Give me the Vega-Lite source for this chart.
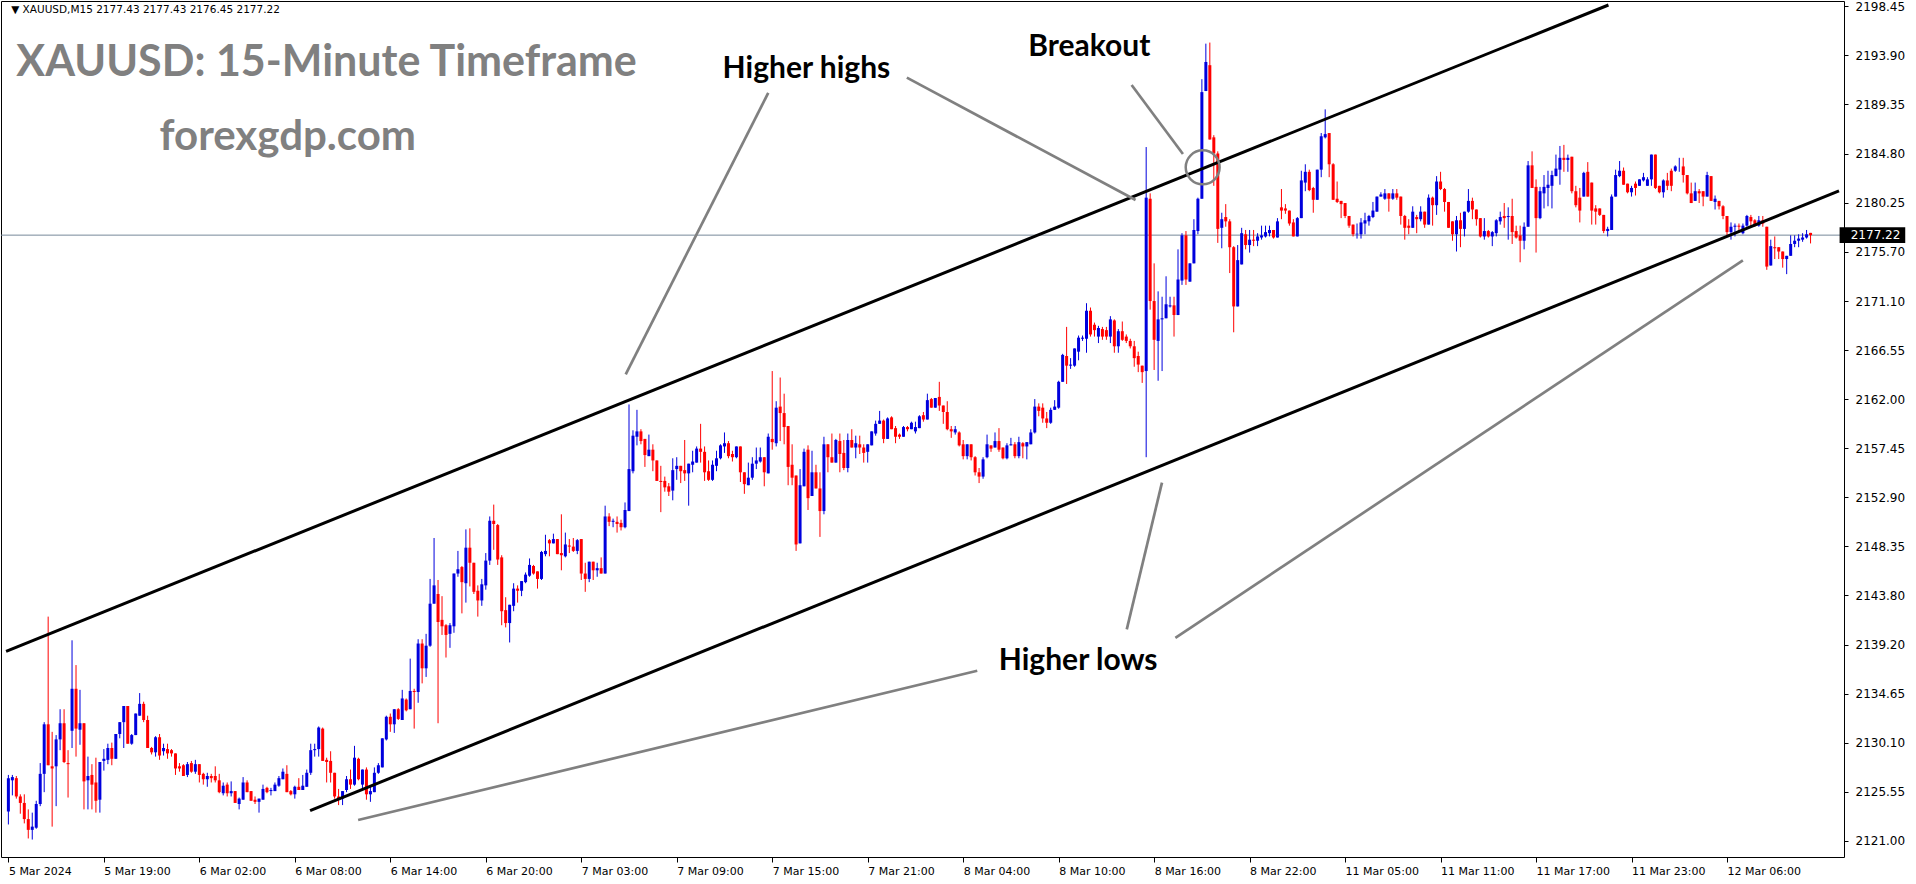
{
"$schema": "https://vega.github.io/schema/vega-lite/v6.json",
"width": 1843,
"height": 856,
"autosize": {"type": "none"},
"padding": {"left": 1, "top": 1, "right": 72, "bottom": 27},
"background": "#ffffff",
"config": {"view": {"stroke": "#000000", "strokeWidth": 1}, "axis": {"grid": false, "domain": false, "tickColor": "#000000", "labelColor": "#000000", "title": null}},
"datasets": {
"candles": [
{"i":0,"o":2123.7,"h":2127.1,"l":2122.5,"c":2126.8},{"i":1,"o":2126.6,"h":2127.1,"l":2125.2,"c":2126.9},{"i":2,"o":2126.8,"h":2127.0,"l":2124.9,"c":2125.1},{"i":3,"o":2125.1,"h":2125.3,"l":2123.5,"c":2124.5},{"i":4,"o":2124.5,"h":2125.3,"l":2122.6,"c":2123.0},{"i":5,"o":2123.0,"h":2123.9,"l":2121.2,"c":2122.0},{"i":6,"o":2122.0,"h":2123.6,"l":2121.1,"c":2122.3},{"i":7,"o":2122.2,"h":2124.7,"l":2122.1,"c":2124.4},{"i":8,"o":2124.4,"h":2128.2,"l":2124.2,"c":2127.2},{"i":9,"o":2127.2,"h":2132.0,"l":2125.5,"c":2131.8},
{"i":10,"o":2131.8,"h":2141.8,"l":2128.0,"c":2128.0},{"i":11,"o":2127.9,"h":2131.1,"l":2122.3,"c":2127.7},{"i":12,"o":2127.9,"h":2130.8,"l":2124.2,"c":2130.4},{"i":13,"o":2130.4,"h":2133.2,"l":2129.4,"c":2131.9},{"i":14,"o":2131.9,"h":2133.2,"l":2128.2,"c":2128.3},{"i":15,"o":2128.2,"h":2129.4,"l":2125.0,"c":2128.1},{"i":16,"o":2131.2,"h":2139.6,"l":2129.6,"c":2135.1},{"i":17,"o":2135.1,"h":2137.3,"l":2128.8,"c":2131.4},{"i":18,"o":2131.3,"h":2135.0,"l":2129.9,"c":2131.9},{"i":19,"o":2131.9,"h":2131.9,"l":2123.9,"c":2126.5},
{"i":20,"o":2126.6,"h":2128.8,"l":2123.9,"c":2127.0},{"i":21,"o":2127.1,"h":2128.1,"l":2123.9,"c":2126.2},{"i":22,"o":2126.4,"h":2128.7,"l":2123.6,"c":2124.7},{"i":23,"o":2124.8,"h":2128.3,"l":2123.6,"c":2128.3},{"i":24,"o":2128.4,"h":2129.5,"l":2127.5,"c":2128.6},{"i":25,"o":2128.5,"h":2130.0,"l":2128.1,"c":2129.6},{"i":26,"o":2129.6,"h":2130.1,"l":2128.0,"c":2128.6},{"i":27,"o":2128.6,"h":2130.9,"l":2128.6,"c":2130.9},{"i":28,"o":2130.9,"h":2132.0,"l":2130.5,"c":2132.0},{"i":29,"o":2132.0,"h":2133.5,"l":2129.6,"c":2133.5},
{"i":30,"o":2133.5,"h":2133.5,"l":2130.0,"c":2130.0},{"i":31,"o":2130.0,"h":2130.9,"l":2129.9,"c":2130.8},{"i":32,"o":2130.8,"h":2132.8,"l":2130.8,"c":2132.8},{"i":33,"o":2132.6,"h":2134.7,"l":2132.6,"c":2133.7},{"i":34,"o":2133.7,"h":2133.9,"l":2132.0,"c":2132.2},{"i":35,"o":2132.2,"h":2132.6,"l":2129.6,"c":2129.6},{"i":36,"o":2129.6,"h":2129.7,"l":2129.0,"c":2129.2},{"i":37,"o":2129.2,"h":2130.7,"l":2128.8,"c":2130.6},{"i":38,"o":2130.6,"h":2130.9,"l":2128.5,"c":2128.9},{"i":39,"o":2129.3,"h":2130.0,"l":2128.9,"c":2129.6},
{"i":40,"o":2129.5,"h":2130.0,"l":2128.6,"c":2129.1},{"i":41,"o":2129.4,"h":2129.5,"l":2128.8,"c":2129.1},{"i":42,"o":2129.1,"h":2129.1,"l":2127.1,"c":2127.7},{"i":43,"o":2127.9,"h":2128.2,"l":2127.4,"c":2127.7},{"i":44,"o":2128.0,"h":2128.1,"l":2127.0,"c":2127.0},{"i":45,"o":2127.1,"h":2128.3,"l":2126.9,"c":2128.1},{"i":46,"o":2128.2,"h":2128.4,"l":2127.3,"c":2127.4},{"i":47,"o":2127.4,"h":2128.5,"l":2127.2,"c":2128.1},{"i":48,"o":2128.1,"h":2128.1,"l":2126.4,"c":2127.1},{"i":49,"o":2127.2,"h":2127.3,"l":2126.2,"c":2126.7},
{"i":50,"o":2126.7,"h":2127.3,"l":2126.0,"c":2127.0},{"i":51,"o":2127.0,"h":2127.2,"l":2126.4,"c":2126.8},{"i":52,"o":2127.0,"h":2127.9,"l":2126.4,"c":2126.6},{"i":53,"o":2126.6,"h":2127.2,"l":2125.4,"c":2125.5},{"i":54,"o":2125.4,"h":2126.4,"l":2125.2,"c":2126.1},{"i":55,"o":2126.2,"h":2126.4,"l":2125.1,"c":2125.4},{"i":56,"o":2125.4,"h":2126.5,"l":2125.1,"c":2125.6},{"i":57,"o":2125.6,"h":2125.6,"l":2124.5,"c":2124.5},{"i":58,"o":2124.4,"h":2125.0,"l":2123.9,"c":2124.9},{"i":59,"o":2124.8,"h":2126.9,"l":2124.8,"c":2126.4},
{"i":60,"o":2126.4,"h":2126.6,"l":2125.5,"c":2125.5},{"i":61,"o":2125.6,"h":2125.6,"l":2124.7,"c":2124.7},{"i":62,"o":2124.8,"h":2125.1,"l":2124.4,"c":2124.6},{"i":63,"o":2124.6,"h":2124.9,"l":2123.6,"c":2124.9},{"i":64,"o":2124.8,"h":2126.2,"l":2124.8,"c":2125.8},{"i":65,"o":2125.9,"h":2126.0,"l":2125.4,"c":2125.5},{"i":66,"o":2125.6,"h":2125.9,"l":2125.2,"c":2125.7},{"i":67,"o":2125.6,"h":2126.4,"l":2125.6,"c":2126.2},{"i":68,"o":2126.1,"h":2127.0,"l":2126.0,"c":2126.8},{"i":69,"o":2126.7,"h":2127.7,"l":2126.7,"c":2127.4},
{"i":70,"o":2127.2,"h":2128.0,"l":2125.5,"c":2125.5},{"i":71,"o":2125.6,"h":2125.7,"l":2125.2,"c":2125.3},{"i":72,"o":2125.3,"h":2126.1,"l":2124.9,"c":2126.0},{"i":73,"o":2126.0,"h":2126.8,"l":2125.7,"c":2125.7},{"i":74,"o":2125.7,"h":2127.1,"l":2125.7,"c":2126.1},{"i":75,"o":2126.0,"h":2127.6,"l":2126.0,"c":2127.3},{"i":76,"o":2127.3,"h":2130.0,"l":2127.1,"c":2129.4},{"i":77,"o":2129.4,"h":2130.0,"l":2128.8,"c":2129.5},{"i":78,"o":2129.5,"h":2131.6,"l":2128.8,"c":2131.5},{"i":79,"o":2131.4,"h":2131.5,"l":2128.4,"c":2128.4},
{"i":80,"o":2128.5,"h":2128.7,"l":2126.4,"c":2128.3},{"i":81,"o":2128.4,"h":2129.3,"l":2126.4,"c":2127.3},{"i":82,"o":2127.3,"h":2127.3,"l":2124.9,"c":2125.1},{"i":83,"o":2125.1,"h":2125.8,"l":2124.3,"c":2124.8},{"i":84,"o":2124.9,"h":2125.6,"l":2124.3,"c":2125.6},{"i":85,"o":2125.7,"h":2127.0,"l":2125.5,"c":2126.7},{"i":86,"o":2126.7,"h":2127.6,"l":2125.8,"c":2126.2},{"i":87,"o":2126.2,"h":2129.8,"l":2126.1,"c":2128.7},{"i":88,"o":2128.6,"h":2128.7,"l":2126.6,"c":2126.7},{"i":89,"o":2126.2,"h":2127.6,"l":2125.7,"c":2127.6},
{"i":90,"o":2127.6,"h":2127.8,"l":2124.8,"c":2125.3},{"i":91,"o":2125.3,"h":2126.0,"l":2124.6,"c":2125.6},{"i":92,"o":2125.5,"h":2127.8,"l":2125.5,"c":2127.3},{"i":93,"o":2127.3,"h":2128.2,"l":2127.2,"c":2128.0},{"i":94,"o":2127.8,"h":2130.5,"l":2127.8,"c":2130.5},{"i":95,"o":2130.4,"h":2132.6,"l":2130.3,"c":2132.5},{"i":96,"o":2132.5,"h":2132.8,"l":2131.1,"c":2131.8},{"i":97,"o":2131.8,"h":2133.2,"l":2131.0,"c":2133.2},{"i":98,"o":2133.2,"h":2133.3,"l":2132.2,"c":2132.3},{"i":99,"o":2132.2,"h":2135.0,"l":2132.2,"c":2134.2},
{"i":100,"o":2134.1,"h":2134.2,"l":2133.0,"c":2133.1},{"i":101,"o":2133.2,"h":2137.9,"l":2133.2,"c":2134.9},{"i":102,"o":2134.9,"h":2135.1,"l":2131.4,"c":2134.8},{"i":103,"o":2134.8,"h":2139.7,"l":2133.8,"c":2139.3},{"i":104,"o":2139.3,"h":2139.7,"l":2135.6,"c":2137.0},{"i":105,"o":2137.0,"h":2140.2,"l":2136.2,"c":2139.1},{"i":106,"o":2139.1,"h":2145.3,"l":2139.0,"c":2143.0},{"i":107,"o":2143.0,"h":2149.1,"l":2143.0,"c":2144.7},{"i":108,"o":2143.9,"h":2145.2,"l":2131.9,"c":2141.3},{"i":109,"o":2141.5,"h":2143.7,"l":2140.1,"c":2140.9},
{"i":110,"o":2141.0,"h":2141.1,"l":2138.0,"c":2140.1},{"i":111,"o":2140.2,"h":2141.2,"l":2138.9,"c":2141.0},{"i":112,"o":2140.9,"h":2145.8,"l":2140.3,"c":2145.8},{"i":113,"o":2145.8,"h":2147.9,"l":2145.5,"c":2146.2},{"i":114,"o":2146.4,"h":2146.5,"l":2142.1,"c":2145.0},{"i":115,"o":2144.9,"h":2149.9,"l":2143.1,"c":2148.2},{"i":116,"o":2148.2,"h":2150.0,"l":2144.6,"c":2146.8},{"i":117,"o":2146.8,"h":2146.8,"l":2143.9,"c":2144.1},{"i":118,"o":2144.2,"h":2144.7,"l":2141.8,"c":2143.3},{"i":119,"o":2143.3,"h":2145.3,"l":2142.8,"c":2144.8},
{"i":120,"o":2144.7,"h":2147.7,"l":2144.3,"c":2147.0},{"i":121,"o":2147.0,"h":2151.1,"l":2146.6,"c":2150.7},{"i":122,"o":2150.7,"h":2152.2,"l":2148.0,"c":2150.4},{"i":123,"o":2150.3,"h":2150.4,"l":2146.6,"c":2147.1},{"i":124,"o":2147.3,"h":2147.5,"l":2141.0,"c":2142.3},{"i":125,"o":2142.4,"h":2143.6,"l":2140.8,"c":2141.2},{"i":126,"o":2141.2,"h":2142.9,"l":2139.4,"c":2142.9},{"i":127,"o":2142.8,"h":2144.9,"l":2142.3,"c":2144.4},{"i":128,"o":2144.4,"h":2144.7,"l":2143.1,"c":2144.2},{"i":129,"o":2144.2,"h":2145.1,"l":2143.7,"c":2145.1},
{"i":130,"o":2145.0,"h":2145.9,"l":2144.9,"c":2145.7},{"i":131,"o":2145.6,"h":2147.2,"l":2145.5,"c":2146.6},{"i":132,"o":2146.5,"h":2146.6,"l":2145.7,"c":2145.8},{"i":133,"o":2146.0,"h":2146.0,"l":2144.4,"c":2145.3},{"i":134,"o":2145.3,"h":2147.9,"l":2145.2,"c":2147.8},{"i":135,"o":2147.6,"h":2149.4,"l":2147.4,"c":2147.9},{"i":136,"o":2148.9,"h":2149.0,"l":2147.4,"c":2148.6},{"i":137,"o":2148.6,"h":2149.5,"l":2148.6,"c":2149.0},{"i":138,"o":2149.0,"h":2149.0,"l":2147.6,"c":2147.6},{"i":139,"o":2147.7,"h":2151.3,"l":2146.1,"c":2147.5},
{"i":140,"o":2147.4,"h":2149.6,"l":2147.3,"c":2148.5},{"i":141,"o":2148.4,"h":2149.0,"l":2147.7,"c":2148.3},{"i":142,"o":2148.3,"h":2149.1,"l":2147.8,"c":2147.9},{"i":143,"o":2147.9,"h":2149.0,"l":2147.6,"c":2148.9},{"i":144,"o":2149.0,"h":2149.0,"l":2145.2,"c":2145.8},{"i":145,"o":2145.8,"h":2146.8,"l":2144.1,"c":2145.3},{"i":146,"o":2145.3,"h":2146.9,"l":2145.0,"c":2146.9},{"i":147,"o":2146.9,"h":2146.9,"l":2145.2,"c":2146.1},{"i":148,"o":2146.1,"h":2146.8,"l":2145.5,"c":2146.3},{"i":149,"o":2146.3,"h":2147.3,"l":2145.8,"c":2145.8},
{"i":150,"o":2145.8,"h":2152.1,"l":2145.8,"c":2151.1},{"i":151,"o":2151.1,"h":2151.4,"l":2150.2,"c":2150.6},{"i":152,"o":2150.6,"h":2150.9,"l":2150.1,"c":2150.7},{"i":153,"o":2150.6,"h":2151.1,"l":2149.6,"c":2150.4},{"i":154,"o":2150.5,"h":2150.8,"l":2149.8,"c":2150.1},{"i":155,"o":2150.1,"h":2152.4,"l":2150.0,"c":2151.7},{"i":156,"o":2151.6,"h":2161.5,"l":2151.6,"c":2155.5},{"i":157,"o":2155.3,"h":2159.1,"l":2155.1,"c":2158.6},{"i":158,"o":2158.5,"h":2161.0,"l":2157.7,"c":2159.0},{"i":159,"o":2159.0,"h":2159.2,"l":2157.8,"c":2158.1},
{"i":160,"o":2158.3,"h":2158.3,"l":2155.7,"c":2156.8},{"i":161,"o":2156.7,"h":2158.7,"l":2156.7,"c":2157.3},{"i":162,"o":2157.3,"h":2157.8,"l":2155.3,"c":2156.3},{"i":163,"o":2156.3,"h":2156.3,"l":2154.4,"c":2154.4},{"i":164,"o":2154.4,"h":2155.8,"l":2151.5,"c":2154.3},{"i":165,"o":2154.4,"h":2154.8,"l":2153.4,"c":2153.8},{"i":166,"o":2153.9,"h":2154.2,"l":2153.0,"c":2153.4},{"i":167,"o":2153.5,"h":2156.5,"l":2152.6,"c":2155.4},{"i":168,"o":2155.5,"h":2156.6,"l":2154.5,"c":2155.8},{"i":169,"o":2155.8,"h":2155.8,"l":2154.2,"c":2155.3},
{"i":170,"o":2155.4,"h":2158.2,"l":2154.4,"c":2155.1},{"i":171,"o":2155.1,"h":2156.0,"l":2152.1,"c":2156.0},{"i":172,"o":2155.9,"h":2157.2,"l":2155.2,"c":2156.2},{"i":173,"o":2156.1,"h":2157.6,"l":2156.1,"c":2157.4},{"i":174,"o":2157.4,"h":2159.7,"l":2156.1,"c":2157.1},{"i":175,"o":2157.1,"h":2157.6,"l":2154.4,"c":2155.2},{"i":176,"o":2155.3,"h":2156.3,"l":2154.4,"c":2154.5},{"i":177,"o":2154.5,"h":2156.3,"l":2154.4,"c":2155.9},{"i":178,"o":2155.8,"h":2157.2,"l":2155.3,"c":2156.5},{"i":179,"o":2156.5,"h":2157.8,"l":2156.4,"c":2157.7},
{"i":180,"o":2157.6,"h":2158.9,"l":2157.0,"c":2157.9},{"i":181,"o":2157.9,"h":2158.1,"l":2156.5,"c":2156.7},{"i":182,"o":2156.9,"h":2157.2,"l":2156.2,"c":2156.6},{"i":183,"o":2156.6,"h":2157.6,"l":2156.5,"c":2157.6},{"i":184,"o":2157.6,"h":2157.6,"l":2154.3,"c":2155.2},{"i":185,"o":2155.2,"h":2155.2,"l":2153.2,"c":2154.1},{"i":186,"o":2154.0,"h":2156.1,"l":2154.0,"c":2154.7},{"i":187,"o":2154.7,"h":2156.6,"l":2154.5,"c":2156.0},{"i":188,"o":2156.0,"h":2157.5,"l":2155.5,"c":2156.3},{"i":189,"o":2156.2,"h":2157.5,"l":2156.1,"c":2156.6},
{"i":190,"o":2156.6,"h":2156.6,"l":2153.9,"c":2155.2},{"i":191,"o":2155.1,"h":2158.8,"l":2155.1,"c":2158.5},{"i":192,"o":2158.3,"h":2164.6,"l":2157.3,"c":2158.0},{"i":193,"o":2157.9,"h":2161.8,"l":2157.6,"c":2161.2},{"i":194,"o":2161.3,"h":2164.0,"l":2158.1,"c":2160.7},{"i":195,"o":2160.7,"h":2162.5,"l":2157.8,"c":2159.4},{"i":196,"o":2159.5,"h":2159.5,"l":2154.0,"c":2155.7},{"i":197,"o":2155.9,"h":2157.8,"l":2154.0,"c":2154.7},{"i":198,"o":2154.9,"h":2154.9,"l":2147.9,"c":2148.5},{"i":199,"o":2148.6,"h":2155.5,"l":2148.6,"c":2154.0},
{"i":200,"o":2153.9,"h":2157.4,"l":2153.9,"c":2157.1},{"i":201,"o":2157.3,"h":2157.7,"l":2151.7,"c":2152.8},{"i":202,"o":2153.0,"h":2157.2,"l":2153.0,"c":2155.2},{"i":203,"o":2155.2,"h":2155.9,"l":2153.7,"c":2153.7},{"i":204,"o":2153.7,"h":2155.2,"l":2149.2,"c":2151.6},{"i":205,"o":2151.6,"h":2158.5,"l":2151.3,"c":2157.8},{"i":206,"o":2157.8,"h":2157.8,"l":2155.2,"c":2156.6},{"i":207,"o":2156.6,"h":2158.8,"l":2156.1,"c":2156.1},{"i":208,"o":2156.1,"h":2158.3,"l":2156.1,"c":2158.2},{"i":209,"o":2158.1,"h":2158.8,"l":2155.2,"c":2156.9},
{"i":210,"o":2157.0,"h":2158.2,"l":2155.4,"c":2155.6},{"i":211,"o":2155.6,"h":2158.8,"l":2155.2,"c":2158.2},{"i":212,"o":2158.2,"h":2159.2,"l":2157.5,"c":2157.5},{"i":213,"o":2157.5,"h":2158.6,"l":2156.5,"c":2157.9},{"i":214,"o":2157.8,"h":2158.6,"l":2156.9,"c":2157.5},{"i":215,"o":2157.5,"h":2157.8,"l":2156.1,"c":2157.0},{"i":216,"o":2157.1,"h":2157.8,"l":2156.1,"c":2157.8},{"i":217,"o":2157.7,"h":2159.0,"l":2157.7,"c":2159.0},{"i":218,"o":2158.8,"h":2160.0,"l":2158.6,"c":2159.7},{"i":219,"o":2159.7,"h":2160.9,"l":2159.7,"c":2160.0},
{"i":220,"o":2160.0,"h":2160.1,"l":2157.9,"c":2158.3},{"i":221,"o":2158.3,"h":2160.3,"l":2158.3,"c":2160.2},{"i":222,"o":2160.3,"h":2160.4,"l":2159.2,"c":2159.2},{"i":223,"o":2159.3,"h":2159.5,"l":2157.9,"c":2158.5},{"i":224,"o":2158.7,"h":2158.8,"l":2158.3,"c":2158.5},{"i":225,"o":2158.5,"h":2159.5,"l":2158.5,"c":2159.4},{"i":226,"o":2159.4,"h":2159.5,"l":2159.0,"c":2159.2},{"i":227,"o":2159.2,"h":2159.9,"l":2159.2,"c":2159.8},{"i":228,"o":2159.0,"h":2159.9,"l":2158.8,"c":2159.4},{"i":229,"o":2159.3,"h":2160.5,"l":2159.3,"c":2160.4},
{"i":230,"o":2160.5,"h":2160.8,"l":2159.9,"c":2160.1},{"i":231,"o":2160.1,"h":2162.5,"l":2160.1,"c":2161.9},{"i":232,"o":2162.0,"h":2162.1,"l":2161.2,"c":2161.2},{"i":233,"o":2161.2,"h":2162.1,"l":2161.2,"c":2162.1},{"i":234,"o":2162.2,"h":2163.6,"l":2160.9,"c":2161.4},{"i":235,"o":2161.4,"h":2161.4,"l":2159.7,"c":2160.8},{"i":236,"o":2160.8,"h":2161.8,"l":2159.1,"c":2159.2},{"i":237,"o":2159.2,"h":2159.5,"l":2158.4,"c":2159.0},{"i":238,"o":2158.9,"h":2159.5,"l":2158.7,"c":2159.2},{"i":239,"o":2158.9,"h":2159.0,"l":2157.6,"c":2157.7},
{"i":240,"o":2157.8,"h":2158.2,"l":2156.4,"c":2156.7},{"i":241,"o":2156.7,"h":2157.8,"l":2156.4,"c":2157.8},{"i":242,"o":2157.8,"h":2157.8,"l":2156.3,"c":2156.6},{"i":243,"o":2156.6,"h":2156.7,"l":2154.9,"c":2155.2},{"i":244,"o":2155.2,"h":2155.6,"l":2154.2,"c":2154.8},{"i":245,"o":2154.8,"h":2156.6,"l":2154.6,"c":2156.4},{"i":246,"o":2156.6,"h":2158.7,"l":2156.5,"c":2157.8},{"i":247,"o":2157.7,"h":2157.7,"l":2157.1,"c":2157.4},{"i":248,"o":2157.5,"h":2158.9,"l":2157.5,"c":2158.1},{"i":249,"o":2158.1,"h":2159.3,"l":2157.1,"c":2157.3},
{"i":250,"o":2157.5,"h":2157.5,"l":2156.4,"c":2156.5},{"i":251,"o":2156.5,"h":2157.9,"l":2156.4,"c":2157.7},{"i":252,"o":2157.7,"h":2158.4,"l":2157.7,"c":2157.8},{"i":253,"o":2157.8,"h":2158.0,"l":2156.5,"c":2156.7},{"i":254,"o":2156.7,"h":2158.5,"l":2156.5,"c":2158.0},{"i":255,"o":2157.9,"h":2158.0,"l":2156.5,"c":2157.6},{"i":256,"o":2157.6,"h":2158.0,"l":2156.4,"c":2158.0},{"i":257,"o":2157.8,"h":2159.2,"l":2157.8,"c":2158.9},{"i":258,"o":2158.9,"h":2162.0,"l":2158.8,"c":2161.3},{"i":259,"o":2161.3,"h":2161.6,"l":2160.4,"c":2160.9},
{"i":260,"o":2161.2,"h":2161.6,"l":2159.8,"c":2160.2},{"i":261,"o":2160.2,"h":2160.8,"l":2159.3,"c":2159.8},{"i":262,"o":2159.8,"h":2161.2,"l":2159.7,"c":2161.0},{"i":263,"o":2161.0,"h":2161.9,"l":2161.0,"c":2161.3},{"i":264,"o":2161.2,"h":2163.7,"l":2161.1,"c":2163.6},{"i":265,"o":2163.6,"h":2166.2,"l":2163.6,"c":2166.1},{"i":266,"o":2166.0,"h":2168.7,"l":2163.4,"c":2165.1},{"i":267,"o":2165.1,"h":2165.8,"l":2164.8,"c":2165.2},{"i":268,"o":2165.1,"h":2166.7,"l":2165.0,"c":2166.7},{"i":269,"o":2166.4,"h":2167.9,"l":2165.6,"c":2167.7},
{"i":270,"o":2167.6,"h":2167.9,"l":2167.4,"c":2167.7},{"i":271,"o":2167.6,"h":2170.9,"l":2166.3,"c":2170.2},{"i":272,"o":2170.2,"h":2170.5,"l":2167.8,"c":2168.0},{"i":273,"o":2168.9,"h":2169.1,"l":2167.8,"c":2168.4},{"i":274,"o":2167.8,"h":2168.8,"l":2167.2,"c":2168.6},{"i":275,"o":2168.5,"h":2168.7,"l":2167.5,"c":2167.8},{"i":276,"o":2168.4,"h":2168.7,"l":2167.5,"c":2167.8},{"i":277,"o":2167.8,"h":2169.7,"l":2167.2,"c":2169.4},{"i":278,"o":2169.3,"h":2169.4,"l":2166.3,"c":2166.9},{"i":279,"o":2166.9,"h":2168.5,"l":2166.3,"c":2168.3},
{"i":280,"o":2168.3,"h":2169.2,"l":2167.4,"c":2167.5},{"i":281,"o":2167.8,"h":2168.0,"l":2167.2,"c":2167.4},{"i":282,"o":2167.4,"h":2167.6,"l":2166.7,"c":2166.9},{"i":283,"o":2166.9,"h":2167.4,"l":2165.0,"c":2165.8},{"i":284,"o":2166.0,"h":2166.4,"l":2164.5,"c":2165.2},{"i":285,"o":2165.1,"h":2165.1,"l":2163.5,"c":2164.5},{"i":286,"o":2164.6,"h":2185.4,"l":2156.6,"c":2180.7},{"i":287,"o":2180.6,"h":2181.1,"l":2170.3,"c":2171.1},{"i":288,"o":2171.1,"h":2174.6,"l":2164.7,"c":2167.5},{"i":289,"o":2167.4,"h":2172.0,"l":2163.7,"c":2169.4},
{"i":290,"o":2169.4,"h":2171.5,"l":2164.6,"c":2169.5},{"i":291,"o":2169.5,"h":2173.4,"l":2169.5,"c":2170.8},{"i":292,"o":2170.6,"h":2171.5,"l":2170.5,"c":2170.7},{"i":293,"o":2170.7,"h":2171.5,"l":2167.8,"c":2169.8},{"i":294,"o":2169.8,"h":2175.9,"l":2169.8,"c":2173.1},{"i":295,"o":2173.0,"h":2177.4,"l":2172.6,"c":2177.2},{"i":296,"o":2177.2,"h":2177.6,"l":2172.6,"c":2173.1},{"i":297,"o":2172.9,"h":2174.6,"l":2172.9,"c":2174.6},{"i":298,"o":2174.6,"h":2178.7,"l":2174.6,"c":2177.7},{"i":299,"o":2177.6,"h":2180.7,"l":2177.3,"c":2180.6},
{"i":300,"o":2180.6,"h":2191.7,"l":2180.6,"c":2190.5},{"i":301,"o":2190.6,"h":2195.0,"l":2190.6,"c":2193.3},{"i":302,"o":2193.0,"h":2195.1,"l":2186.1,"c":2186.1},{"i":303,"o":2186.3,"h":2186.5,"l":2181.8,"c":2184.8},{"i":304,"o":2184.8,"h":2185.0,"l":2176.5,"c":2177.8},{"i":305,"o":2177.9,"h":2179.3,"l":2176.0,"c":2178.7},{"i":306,"o":2178.9,"h":2180.1,"l":2178.0,"c":2178.5},{"i":307,"o":2178.5,"h":2178.7,"l":2173.7,"c":2176.1},{"i":308,"o":2176.1,"h":2176.2,"l":2168.2,"c":2170.6},{"i":309,"o":2170.6,"h":2176.3,"l":2170.6,"c":2174.9},
{"i":310,"o":2174.5,"h":2177.9,"l":2174.5,"c":2177.4},{"i":311,"o":2177.3,"h":2177.7,"l":2175.9,"c":2176.3},{"i":312,"o":2176.3,"h":2177.7,"l":2175.6,"c":2176.8},{"i":313,"o":2176.8,"h":2177.7,"l":2176.2,"c":2176.7},{"i":314,"o":2176.7,"h":2177.4,"l":2176.2,"c":2177.1},{"i":315,"o":2177.0,"h":2178.1,"l":2176.8,"c":2177.2},{"i":316,"o":2177.1,"h":2178.1,"l":2177.0,"c":2177.5},{"i":317,"o":2177.4,"h":2178.1,"l":2177.1,"c":2177.7},{"i":318,"o":2177.7,"h":2177.7,"l":2176.9,"c":2177.0},{"i":319,"o":2177.0,"h":2178.8,"l":2177.0,"c":2178.5},
{"i":320,"o":2179.8,"h":2181.5,"l":2178.7,"c":2179.5},{"i":321,"o":2179.7,"h":2180.1,"l":2179.2,"c":2179.5},{"i":322,"o":2179.5,"h":2179.5,"l":2178.1,"c":2178.3},{"i":323,"o":2178.4,"h":2178.7,"l":2177.1,"c":2177.1},{"i":324,"o":2177.1,"h":2178.9,"l":2177.1,"c":2178.8},{"i":325,"o":2178.8,"h":2183.2,"l":2178.8,"c":2182.3},{"i":326,"o":2182.1,"h":2183.8,"l":2181.3,"c":2183.1},{"i":327,"o":2183.1,"h":2183.3,"l":2181.3,"c":2181.4},{"i":328,"o":2181.6,"h":2181.7,"l":2179.3,"c":2180.5},{"i":329,"o":2180.5,"h":2183.3,"l":2180.5,"c":2183.3},
{"i":330,"o":2183.3,"h":2186.7,"l":2182.6,"c":2186.4},{"i":331,"o":2186.3,"h":2188.9,"l":2186.2,"c":2186.6},{"i":332,"o":2186.7,"h":2186.7,"l":2182.6,"c":2183.8},{"i":333,"o":2183.8,"h":2183.9,"l":2180.5,"c":2180.5},{"i":334,"o":2180.6,"h":2182.2,"l":2180.2,"c":2180.3},{"i":335,"o":2180.4,"h":2180.4,"l":2178.8,"c":2180.1},{"i":336,"o":2180.2,"h":2180.2,"l":2178.8,"c":2179.0},{"i":337,"o":2179.0,"h":2179.0,"l":2177.9,"c":2178.1},{"i":338,"o":2178.2,"h":2178.2,"l":2177.1,"c":2177.3},{"i":339,"o":2177.3,"h":2178.3,"l":2176.9,"c":2177.35},
{"i":340,"o":2177.3,"h":2178.8,"l":2176.9,"c":2178.4},{"i":341,"o":2178.3,"h":2179.3,"l":2177.3,"c":2178.6},{"i":342,"o":2178.5,"h":2179.1,"l":2178.1,"c":2179.0},{"i":343,"o":2178.9,"h":2180.3,"l":2178.8,"c":2179.5},{"i":344,"o":2179.4,"h":2180.8,"l":2179.4,"c":2180.8},{"i":345,"o":2180.8,"h":2181.2,"l":2180.8,"c":2181.0},{"i":346,"o":2180.6,"h":2181.5,"l":2180.5,"c":2181.1},{"i":347,"o":2181.1,"h":2181.1,"l":2179.4,"c":2180.6},{"i":348,"o":2180.6,"h":2181.5,"l":2180.5,"c":2181.1},{"i":349,"o":2181.1,"h":2181.5,"l":2180.5,"c":2180.7},
{"i":350,"o":2180.8,"h":2180.8,"l":2178.2,"c":2179.0},{"i":351,"o":2179.0,"h":2179.1,"l":2176.8,"c":2177.9},{"i":352,"o":2178.1,"h":2178.7,"l":2177.3,"c":2177.9},{"i":353,"o":2177.9,"h":2179.9,"l":2177.9,"c":2179.4},{"i":354,"o":2178.9,"h":2179.1,"l":2177.4,"c":2178.7},{"i":355,"o":2178.7,"h":2179.9,"l":2178.5,"c":2179.4},{"i":356,"o":2179.4,"h":2179.4,"l":2177.9,"c":2178.2},{"i":357,"o":2178.2,"h":2181.0,"l":2178.2,"c":2180.7},{"i":358,"o":2180.7,"h":2180.8,"l":2178.1,"c":2180.0},{"i":359,"o":2180.0,"h":2182.7,"l":2179.1,"c":2182.2},
{"i":360,"o":2182.2,"h":2183.1,"l":2181.4,"c":2181.5},{"i":361,"o":2181.5,"h":2181.6,"l":2179.4,"c":2180.3},{"i":362,"o":2180.3,"h":2180.3,"l":2177.9,"c":2177.9},{"i":363,"o":2178.5,"h":2178.5,"l":2176.7,"c":2177.3},{"i":364,"o":2177.3,"h":2179.0,"l":2175.7,"c":2178.6},{"i":365,"o":2178.6,"h":2179.3,"l":2176.1,"c":2177.8},{"i":366,"o":2177.8,"h":2179.4,"l":2177.1,"c":2179.4},{"i":367,"o":2179.4,"h":2181.5,"l":2179.3,"c":2180.4},{"i":368,"o":2180.4,"h":2180.7,"l":2178.7,"c":2179.6},{"i":369,"o":2179.6,"h":2179.6,"l":2178.1,"c":2178.7},
{"i":370,"o":2178.8,"h":2178.8,"l":2177.0,"c":2177.1},{"i":371,"o":2177.1,"h":2178.8,"l":2176.8,"c":2177.6},{"i":372,"o":2177.6,"h":2177.7,"l":2177.0,"c":2177.1},{"i":373,"o":2177.1,"h":2177.6,"l":2176.2,"c":2177.5},{"i":374,"o":2177.4,"h":2178.7,"l":2177.1,"c":2178.6},{"i":375,"o":2178.5,"h":2179.4,"l":2178.2,"c":2178.9},{"i":376,"o":2179.0,"h":2180.2,"l":2177.9,"c":2178.8},{"i":377,"o":2178.9,"h":2179.8,"l":2176.8,"c":2179.0},{"i":378,"o":2179.0,"h":2180.6,"l":2176.4,"c":2177.5},{"i":379,"o":2177.6,"h":2178.1,"l":2176.9,"c":2177.0},
{"i":380,"o":2177.2,"h":2178.1,"l":2174.7,"c":2176.7},{"i":381,"o":2176.7,"h":2178.4,"l":2175.9,"c":2178.0},{"i":382,"o":2178.0,"h":2184.1,"l":2178.0,"c":2183.7},{"i":383,"o":2183.7,"h":2185.0,"l":2181.6,"c":2181.6},{"i":384,"o":2181.7,"h":2182.4,"l":2175.6,"c":2178.8},{"i":385,"o":2178.8,"h":2181.7,"l":2178.7,"c":2181.3},{"i":386,"o":2181.1,"h":2182.8,"l":2179.7,"c":2181.7},{"i":387,"o":2181.6,"h":2183.2,"l":2179.9,"c":2181.9},{"i":388,"o":2181.8,"h":2183.2,"l":2179.7,"c":2182.8},{"i":389,"o":2182.7,"h":2184.7,"l":2182.7,"c":2183.4},
{"i":390,"o":2183.3,"h":2185.5,"l":2181.9,"c":2184.4},{"i":391,"o":2184.4,"h":2185.6,"l":2183.1,"c":2184.2},{"i":392,"o":2184.2,"h":2184.7,"l":2183.1,"c":2184.4},{"i":393,"o":2184.5,"h":2184.5,"l":2181.1,"c":2181.3},{"i":394,"o":2181.3,"h":2181.8,"l":2179.8,"c":2180.0},{"i":395,"o":2180.7,"h":2181.6,"l":2178.4,"c":2179.5},{"i":396,"o":2180.8,"h":2183.1,"l":2180.8,"c":2183.0},{"i":397,"o":2183.1,"h":2184.0,"l":2180.8,"c":2180.8},{"i":398,"o":2182.1,"h":2182.1,"l":2178.2,"c":2179.5},{"i":399,"o":2179.7,"h":2180.0,"l":2178.2,"c":2179.4},
{"i":400,"o":2179.7,"h":2179.7,"l":2179.0,"c":2179.1},{"i":401,"o":2179.1,"h":2179.1,"l":2177.4,"c":2177.6},{"i":402,"o":2177.6,"h":2178.0,"l":2177.1,"c":2177.8},{"i":403,"o":2177.7,"h":2181.0,"l":2177.7,"c":2180.8},{"i":404,"o":2180.8,"h":2183.3,"l":2180.8,"c":2182.8},{"i":405,"o":2182.7,"h":2184.1,"l":2182.6,"c":2183.2},{"i":406,"o":2183.2,"h":2183.5,"l":2181.9,"c":2181.9},{"i":407,"o":2182.0,"h":2182.0,"l":2181.1,"c":2181.2},{"i":408,"o":2181.2,"h":2181.8,"l":2180.8,"c":2181.6},{"i":409,"o":2182.0,"h":2182.2,"l":2180.9,"c":2181.6},
{"i":410,"o":2181.8,"h":2182.4,"l":2181.8,"c":2182.4},{"i":411,"o":2182.3,"h":2183.0,"l":2182.2,"c":2182.6},{"i":412,"o":2181.8,"h":2182.6,"l":2181.8,"c":2182.4},{"i":413,"o":2182.4,"h":2184.7,"l":2181.8,"c":2184.7},{"i":414,"o":2184.7,"h":2184.7,"l":2181.5,"c":2181.6},{"i":415,"o":2181.8,"h":2181.8,"l":2181.1,"c":2181.2},{"i":416,"o":2181.2,"h":2182.4,"l":2180.7,"c":2182.3},{"i":417,"o":2182.3,"h":2183.0,"l":2181.4,"c":2181.8},{"i":418,"o":2183.2,"h":2183.4,"l":2181.3,"c":2181.8},{"i":419,"o":2183.2,"h":2183.7,"l":2183.1,"c":2183.6},
{"i":420,"o":2183.6,"h":2184.4,"l":2183.1,"c":2183.6},{"i":421,"o":2183.6,"h":2184.4,"l":2182.1,"c":2182.8},{"i":422,"o":2182.8,"h":2182.8,"l":2181.0,"c":2181.1},{"i":423,"o":2181.1,"h":2182.1,"l":2180.2,"c":2180.2},{"i":424,"o":2180.4,"h":2182.1,"l":2180.4,"c":2181.3},{"i":425,"o":2181.3,"h":2181.5,"l":2180.2,"c":2181.1},{"i":426,"o":2181.3,"h":2181.3,"l":2179.9,"c":2180.8},{"i":427,"o":2180.8,"h":2183.1,"l":2180.8,"c":2182.8},{"i":428,"o":2182.7,"h":2182.7,"l":2180.4,"c":2180.4},{"i":429,"o":2180.3,"h":2180.9,"l":2179.6,"c":2180.6},
{"i":430,"o":2180.4,"h":2180.4,"l":2179.6,"c":2179.9},{"i":431,"o":2179.9,"h":2180.0,"l":2178.7,"c":2179.0},{"i":432,"o":2179.0,"h":2179.0,"l":2177.1,"c":2177.5},{"i":433,"o":2177.5,"h":2178.4,"l":2176.8,"c":2178.0},{"i":434,"o":2178.0,"h":2178.3,"l":2177.1,"c":2178.1},{"i":435,"o":2178.1,"h":2178.3,"l":2177.6,"c":2178.0},{"i":436,"o":2177.4,"h":2178.3,"l":2177.3,"c":2178.1},{"i":437,"o":2178.1,"h":2179.1,"l":2178.0,"c":2179.0},{"i":438,"o":2178.9,"h":2179.1,"l":2178.0,"c":2178.5},{"i":439,"o":2178.6,"h":2178.7,"l":2178.0,"c":2178.1},
{"i":440,"o":2178.1,"h":2179.0,"l":2178.0,"c":2178.6},{"i":441,"o":2178.6,"h":2179.0,"l":2178.0,"c":2178.3},{"i":442,"o":2178.0,"h":2178.0,"l":2174.0,"c":2174.3},{"i":443,"o":2174.4,"h":2176.8,"l":2174.4,"c":2176.2},{"i":444,"o":2176.1,"h":2177.1,"l":2175.0,"c":2176.0},{"i":445,"o":2176.1,"h":2176.1,"l":2175.0,"c":2175.7},{"i":446,"o":2175.7,"h":2175.7,"l":2174.2,"c":2175.0},{"i":447,"o":2175.0,"h":2175.3,"l":2173.6,"c":2175.3},{"i":448,"o":2175.3,"h":2177.2,"l":2175.3,"c":2176.4},{"i":449,"o":2176.4,"h":2177.2,"l":2176.1,"c":2176.7},
{"i":450,"o":2176.7,"h":2177.3,"l":2176.1,"c":2176.9},{"i":451,"o":2176.8,"h":2177.4,"l":2176.6,"c":2177.0},{"i":452,"o":2177.0,"h":2177.7,"l":2176.9,"c":2177.3},{"i":453,"o":2177.43,"h":2177.43,"l":2176.45,"c":2177.22}
],
"channel": [
{"x1":-0.58,"y1":2138.58,"x2":402.2,"y2":2198.59},
{"x1":75.84,"y1":2123.78,"x2":460.15,"y2":2181.32}
],
"pointers": [
{"x1":191.0,"y1":2190.43,"x2":155.17,"y2":2164.30},
{"x1":225.84,"y1":2191.84,"x2":283.34,"y2":2180.48},
{"x1":282.34,"y1":2191.16,"x2":295.24,"y2":2184.75},
{"x1":243.54,"y1":2136.77,"x2":87.92,"y2":2122.92},
{"x1":281.12,"y1":2140.62,"x2":289.97,"y2":2154.24},
{"x1":293.34,"y1":2139.83,"x2":435.99,"y2":2174.88}
]
},
"layer": [
{
"data": {"values": [{"p": 2177.22}]},
"mark": {"type": "rule", "color": "#778899", "strokeWidth": 1},
"encoding": {
"y": {"field": "p", "type": "quantitative", "scale": {"domain": [2119.48, 2198.96], "nice": false, "zero": false},
"axis": {"orient": "right", "values": [2121.00, 2125.55, 2130.10, 2134.65, 2139.20, 2143.80, 2148.35, 2152.90, 2157.45, 2162.00, 2166.55, 2171.10, 2175.70, 2180.25, 2184.80, 2189.35, 2193.90, 2198.45], "format": ".2f", "tickSize": 4, "labelPadding": 7, "labelFont": "DejaVu Sans", "labelFontSize": 12, "labelOverlap": false, "labelFlush": false, "labelBaseline": "middle"}}
}
},
{
"data": {"name": "candles"},
"mark": {"type": "rule", "strokeWidth": 1},
"encoding": {
"x": {"field": "i", "type": "quantitative", "scale": {"domain": [-0.6, 460.15], "nice": false, "zero": false},
"axis": {"orient": "bottom", "values": [0,24,48,72,96,120,144,168,192,216,240,264,288,312,336,360,384,408,432], "tickSize": 5, "labelAlign": "left", "labelBaseline": "top", "labelPadding": 3, "labelFont": "DejaVu Sans", "labelFontSize": 11, "labelOverlap": false, "labelFlush": false,
"labelExpr": "['5 Mar 2024','5 Mar 19:00','6 Mar 02:00','6 Mar 08:00','6 Mar 14:00','6 Mar 20:00','7 Mar 03:00','7 Mar 09:00','7 Mar 15:00','7 Mar 21:00','8 Mar 04:00','8 Mar 10:00','8 Mar 16:00','8 Mar 22:00','11 Mar 05:00','11 Mar 11:00','11 Mar 17:00','11 Mar 23:00','12 Mar 06:00'][round(datum.value/24)]"}},
"y": {"field": "l", "type": "quantitative", "scale": {"domain": [2119.48, 2198.96], "nice": false, "zero": false}},
"y2": {"field": "h"},
"color": {"condition": {"test": "datum.c >= datum.o", "value": "#0000dd"}, "value": "#ff0000"}
}
},
{
"data": {"name": "candles"},
"mark": {"type": "bar", "size": 3},
"encoding": {
"x": {"field": "i", "type": "quantitative", "scale": {"domain": [-0.6, 460.15], "nice": false, "zero": false}},
"y": {"field": "o", "type": "quantitative", "scale": {"domain": [2119.48, 2198.96], "nice": false, "zero": false}},
"y2": {"field": "c"},
"color": {"condition": {"test": "datum.c >= datum.o", "value": "#0000dd"}, "value": "#ff0000"}
}
},
{
"data": {"name": "channel"},
"mark": {"type": "rule", "color": "#000000", "strokeWidth": 3, "clip": true},
"encoding": {
"x": {"field": "x1", "type": "quantitative", "scale": {"domain": [-0.6, 460.15], "nice": false, "zero": false}},
"x2": {"field": "x2"},
"y": {"field": "y1", "type": "quantitative", "scale": {"domain": [2119.48, 2198.96], "nice": false, "zero": false}},
"y2": {"field": "y2"}
}
},
{
"data": {"name": "pointers"},
"mark": {"type": "rule", "color": "#808080", "strokeWidth": 2.7},
"encoding": {
"x": {"field": "x1", "type": "quantitative", "scale": {"domain": [-0.6, 460.15], "nice": false, "zero": false}},
"x2": {"field": "x2"},
"y": {"field": "y1", "type": "quantitative", "scale": {"domain": [2119.48, 2198.96], "nice": false, "zero": false}},
"y2": {"field": "y2"}
}
},
{
"data": {"values": [{"i": 300.2, "p": 2183.52}]},
"mark": {"type": "point", "shape": "circle", "filled": false, "size": 1150, "stroke": "#808080", "strokeWidth": 2.5, "opacity": 1},
"encoding": {
"x": {"field": "i", "type": "quantitative", "scale": {"domain": [-0.6, 460.15], "nice": false, "zero": false}},
"y": {"field": "p", "type": "quantitative", "scale": {"domain": [2119.48, 2198.96], "nice": false, "zero": false}}
}
},
{
"data": {"values": [{"i": 200.6, "p": 2191.78, "t": "Higher highs"}, {"i": 271.7, "p": 2193.84, "t": "Breakout"}, {"i": 268.9, "p": 2136.88, "t": "Higher lows"}]},
"mark": {"type": "text", "font": "Lato", "fontWeight": "bold", "fontSize": 30, "color": "#000000", "align": "center", "baseline": "alphabetic"},
"encoding": {
"x": {"field": "i", "type": "quantitative", "scale": {"domain": [-0.6, 460.15], "nice": false, "zero": false}},
"y": {"field": "p", "type": "quantitative", "scale": {"domain": [2119.48, 2198.96], "nice": false, "zero": false}},
"text": {"field": "t"}
}
},
{
"data": {"values": [{"i": 2.0, "p": 2192.0, "t": "XAUUSD: 15-Minute Timeframe"}]},
"mark": {"type": "text", "font": "Lato", "fontWeight": "bold", "fontSize": 43, "color": "#808080", "align": "left", "baseline": "alphabetic"},
"encoding": {
"x": {"field": "i", "type": "quantitative", "scale": {"domain": [-0.6, 460.15], "nice": false, "zero": false}},
"y": {"field": "p", "type": "quantitative", "scale": {"domain": [2119.48, 2198.96], "nice": false, "zero": false}},
"text": {"field": "t"}
}
},
{
"data": {"values": [{"i": 38.0, "p": 2185.1, "t": "forexgdp.com"}]},
"mark": {"type": "text", "font": "Lato", "fontWeight": "bold", "fontSize": 42, "color": "#808080", "align": "left", "baseline": "alphabetic"},
"encoding": {
"x": {"field": "i", "type": "quantitative", "scale": {"domain": [-0.6, 460.15], "nice": false, "zero": false}},
"y": {"field": "p", "type": "quantitative", "scale": {"domain": [2119.48, 2198.96], "nice": false, "zero": false}},
"text": {"field": "t"}
}
},
{
"data": {"values": [{"i": 0.7, "p": 2198.08, "t": "▼ XAUUSD,M15  2177.43 2177.43 2176.45 2177.22"}]},
"mark": {"type": "text", "font": "DejaVu Sans", "fontSize": 10.5, "color": "#000000", "align": "left", "baseline": "middle"},
"encoding": {
"x": {"field": "i", "type": "quantitative", "scale": {"domain": [-0.6, 460.15], "nice": false, "zero": false}},
"y": {"field": "p", "type": "quantitative", "scale": {"domain": [2119.48, 2198.96], "nice": false, "zero": false}},
"text": {"field": "t"}
}
},
{
"data": {"values": [{"a": 460.3, "b": 476.8, "p1": 2177.95, "p2": 2176.49}]},
"mark": {"type": "rect", "color": "#000000", "clip": false},
"encoding": {
"x": {"field": "a", "type": "quantitative", "scale": {"domain": [-0.6, 460.15], "nice": false, "zero": false}},
"x2": {"field": "b"},
"y": {"field": "p1", "type": "quantitative", "scale": {"domain": [2119.48, 2198.96], "nice": false, "zero": false}},
"y2": {"field": "p2"}
}
},
{
"data": {"values": [{"i": 463.1, "p": 2177.22, "t": "2177.22"}]},
"mark": {"type": "text", "font": "DejaVu Sans", "fontSize": 12, "color": "#ffffff", "align": "left", "baseline": "middle", "clip": false},
"encoding": {
"x": {"field": "i", "type": "quantitative", "scale": {"domain": [-0.6, 460.15], "nice": false, "zero": false}},
"y": {"field": "p", "type": "quantitative", "scale": {"domain": [2119.48, 2198.96], "nice": false, "zero": false}},
"text": {"field": "t"}
}
}
]
}
